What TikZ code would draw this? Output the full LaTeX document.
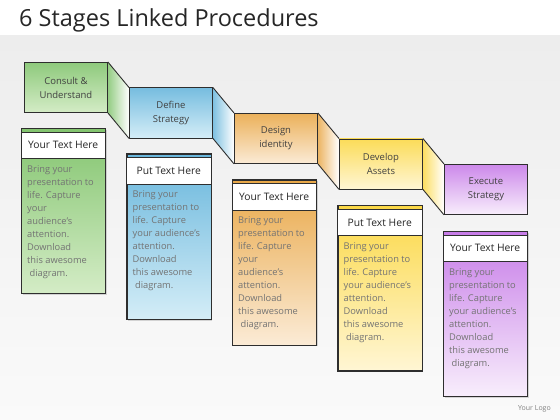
\documentclass[tikz,border=0pt]{standalone}
\usepackage{fontspec}
\setmainfont{Open Sans}
\usetikzlibrary{shadows}
\definecolor{gA}{HTML}{82C46E}\definecolor{gAl}{HTML}{D4ECC6}
\definecolor{bA}{HTML}{68B6DC}\definecolor{bAl}{HTML}{D4EDF7}
\definecolor{oA}{HTML}{E9A848}\definecolor{oAl}{HTML}{FBEBD6}
\definecolor{yA}{HTML}{FBD846}\definecolor{yAl}{HTML}{FFF6D4}
\definecolor{pA}{HTML}{C77CE8}\definecolor{pAl}{HTML}{F8EEFC}
\definecolor{bordc}{HTML}{2E2E2E}
\newcommand\bodyA{Bring your\\presentation to\\life. Capture\\your\\audience’s\\attention.\\Download\\this awesome\\\ diagram.}
\newcommand\bodyB{Bring your\\presentation to\\life. Capture\\your audience’s\\attention.\\Download\\this awesome\\\ diagram.}
\begin{document}
\begin{tikzpicture}[x=1pt,y=-1pt,
  stagebox/.style={draw=bordc, line width=0.9pt, minimum width=83pt, minimum height=50pt,
    inner sep=0pt, align=center, font=\fontsize{9.5}{14}\selectfont, text=black!75, anchor=north west},
  panelbox/.style={draw=bordc, line width=0.9pt, minimum width=84pt, minimum height=165pt,
    inner sep=0pt, anchor=north west, drop shadow={shadow xshift=1.5pt, shadow yshift=-1.5pt, opacity=0.3}},
  headbox/.style={fill=white, minimum width=84pt, minimum height=26pt, inner sep=0pt,
    anchor=north west, font=\fontsize{10.3}{12}\selectfont, text=black!85},
  bodytext/.style={anchor=north west, align=left, inner sep=0pt, font=\fontsize{9.3}{13}\selectfont, text=black!55},
  link/.style={draw=bordc, line width=0.9pt}]
\useasboundingbox (0,0) rectangle (560,420);
\fill[white] (0,0) rectangle (560,420);
\shade[top color={rgb,255:red,237;green,237;blue,237}, bottom color={rgb,255:red,250;green,250;blue,250}] (0,36) rectangle (560,420);
\node[anchor=base west, inner sep=0pt, font=\fontsize{23.5}{26}\selectfont, text=black!85] (title) at (19,27) {6 Stages Linked Procedures};
% stage boxes
\foreach \i/\ca/\cb/\lab in {0/gA/gAl/{Consult \&\\Understand},1/bA/bAl/{Define\\Strategy},2/oA/oAl/{Design\\identity},3/yA/yAl/{Develop\\Assets},4/pA/pAl/{Execute\\Strategy}}{
  \node[stagebox, top color=\ca!90, bottom color=\cb] (s\i) at ({24+105*\i},{62+25.5*\i}) {\lab};
}
% connectors
\foreach \i/\j/\ca in {0/1/gA,1/2/bA,2/3/oA,3/4/yA}{
  \shade[left color=\ca!85, right color=white] (s\i.north east) -- (s\j.north west) -- (s\j.south west) -- (s\i.south east) -- cycle;
  \draw[link] (s\i.north east) -- (s\j.north west);
  \draw[link] (s\i.south east) -- (s\j.south west);
  \draw[link] (s\i.north east) -- (s\i.south east);
  \draw[link] (s\j.north west) -- (s\j.south west);
}
% panels
\foreach \i/\ca/\cb/\hd/\bd in {0/gA/gAl/Your Text Here/\bodyA,1/bA/bAl/Put Text Here/\bodyB,2/oA/oAl/Your Text Here/\bodyA,3/yA/yAl/Put Text Here/\bodyB,4/pA/pAl/Your Text Here/\bodyB}{
  \node[panelbox, top color=\ca, bottom color=\cb] (p\i) at ({21+105.5*\i},{128+25.75*\i}) {};
  \node[headbox] (h\i) at ({21+105.5*\i},{132+25.75*\i}) {\hd};
  \draw[bordc, line width=0.6pt] (h\i.north west) -- (h\i.north east);
  \draw[bordc, line width=0.6pt] (h\i.south west) -- (h\i.south east);
  \draw[bordc, line width=0.9pt] (p\i.north west) rectangle (p\i.south east);
  \node[bodytext] (b\i) at ({27+105.5*\i},{165+25.75*\i}) {\bd};
}
\node[anchor=base east, inner sep=0pt, font=\fontsize{7}{8}\selectfont, text=black!50] (logo) at (551,410) {Your Logo};
\end{tikzpicture}
\end{document}
